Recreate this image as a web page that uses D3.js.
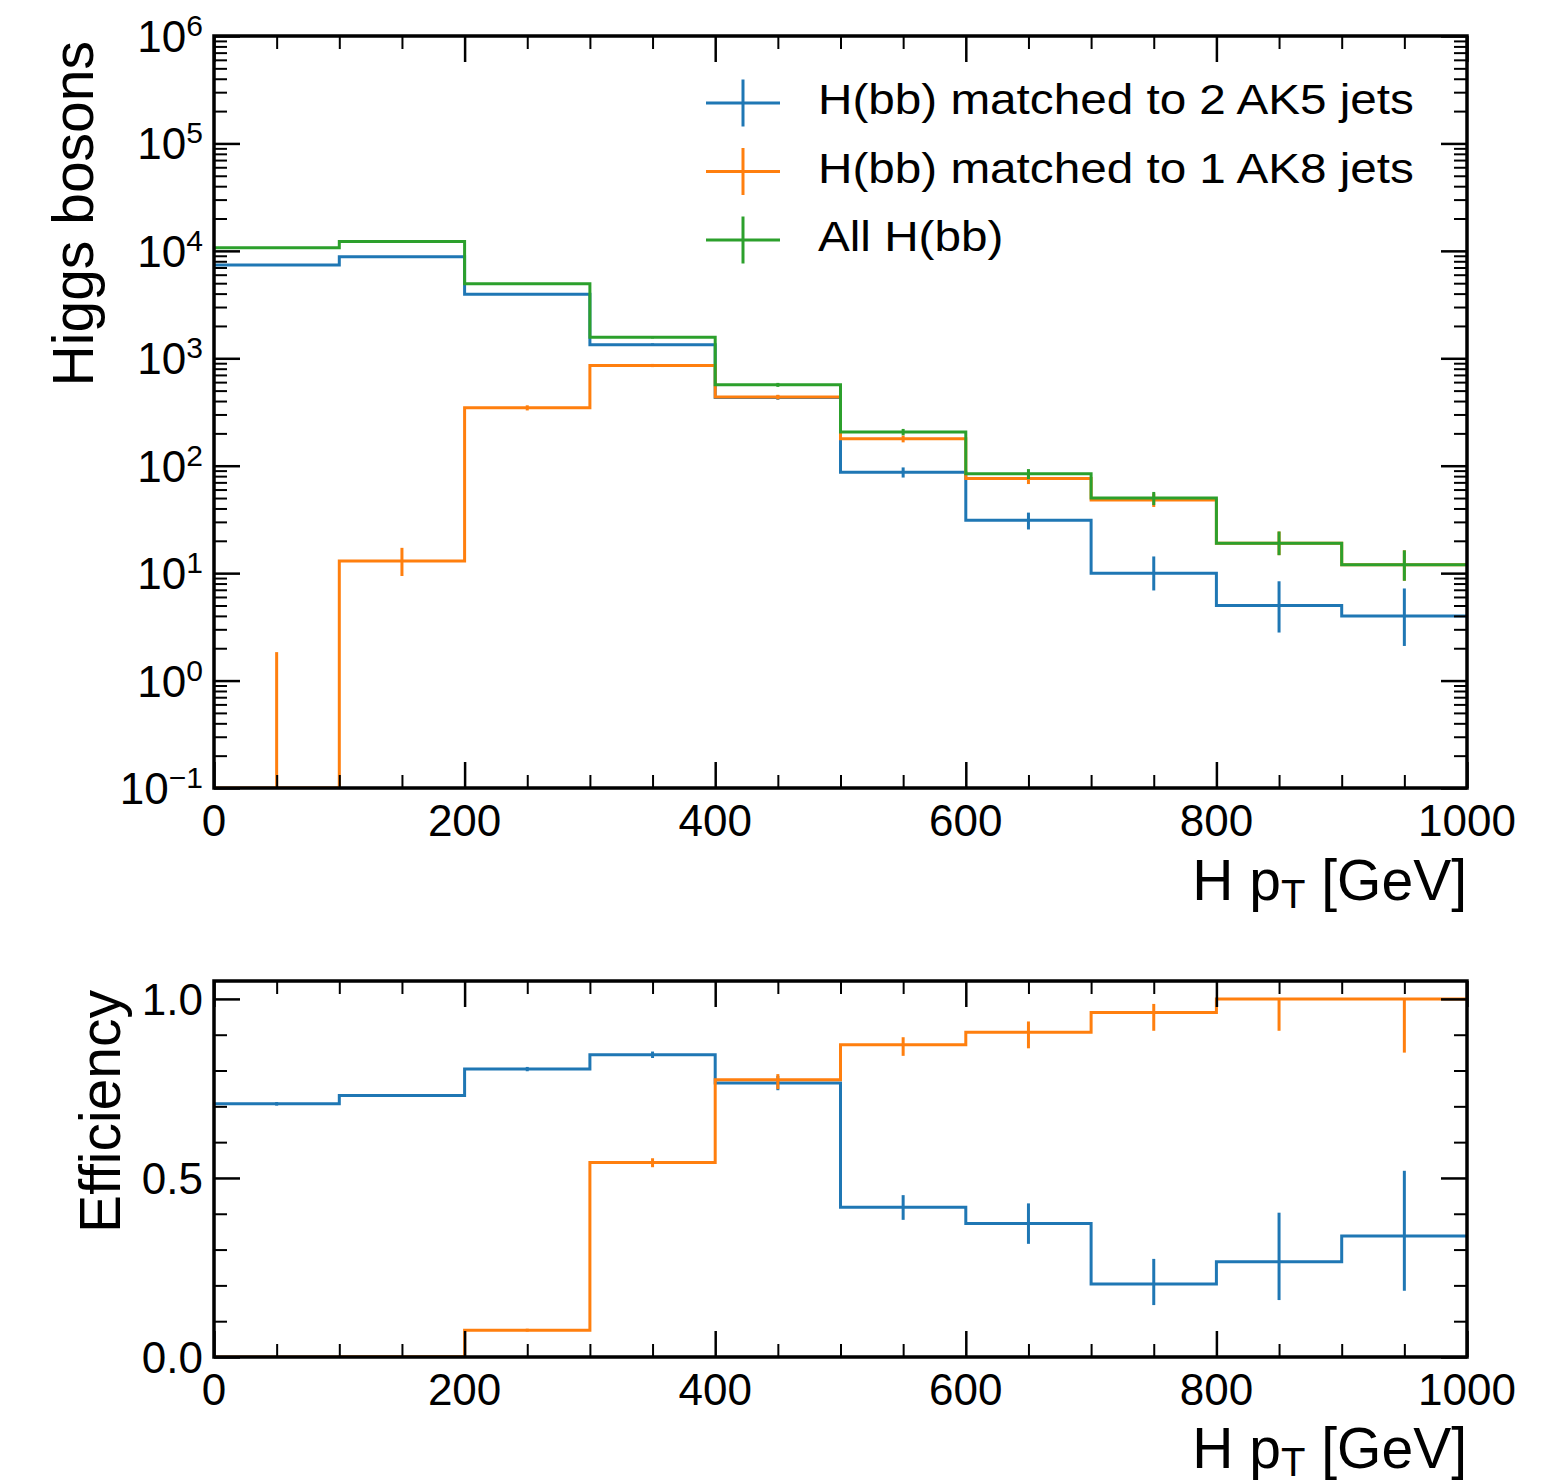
<!DOCTYPE html>
<html>
<head>
<meta charset="utf-8">
<script src="https://cdn.jsdelivr.net/npm/d3@7"></script>
<style>
  body { margin: 0; background: #fff; }
  svg { font-family: "Liberation Sans", Arial, Helvetica, sans-serif; }
  .tick line { stroke: #000; }
</style>
</head>
<body>
<svg id="chart" width="1553" height="1484"></svg>
<script>
// bin edges, H pT [GeV]
const edges = [0, 100, 200, 300, 400, 500, 600, 700, 800, 900, 1000];

// counts per bin (top panel)
const countAK5 = [7400, 8800, 3950, 1340, 432, 87, 31, 10, 5, 4];
const countAK8 = [0, 13, 346, 857, 436, 178, 76, 48, 19, 12];
const countAll = [10700, 12200, 4950, 1570, 566, 206, 84, 50, 19, 12];

// error bar bounds (top panel)
const loAK5 = [7314, 8706, 3887, 1303, 411, 77.6, 25.5, 6.9, 2.8, 2.1];
const hiAK5 = [7486, 8894, 4013, 1377, 453, 96.4, 36.6, 14.3, 8.4, 7.2];
const loAK8 = [0, 9.4, 327, 828, 415, 165, 67.5, 41.3, 14.7, 8.5];
const hiAK8 = [1.84, 17.2, 365, 886, 457, 191, 84.7, 55.1, 24.4, 16.3];
const loAll = [10600, 12090, 4880, 1530, 542, 192, 75, 43, 14.7, 8.5];
const hiAll = [10800, 12310, 5020, 1610, 590, 220, 93, 57, 24.4, 16.3];

// efficiencies (bottom panel)
const effAK5 = [0.707, 0.730, 0.804, 0.844, 0.765, 0.418, 0.373, 0.204, 0.266, 0.338];
const effAK8 = [0, 0.001, 0.075, 0.543, 0.774, 0.872, 0.907, 0.962, 1.0, 1.0];
const effLoAK5 = [0.702, 0.726, 0.798, 0.835, 0.745, 0.383, 0.316, 0.145, 0.159, 0.185];
const effHiAK5 = [0.712, 0.734, 0.810, 0.853, 0.785, 0.452, 0.429, 0.274, 0.403, 0.520];
const effLoAK8 = [0, 0.0007, 0.071, 0.530, 0.748, 0.841, 0.862, 0.911, 0.911, 0.85];
const effHiAK8 = [0.0003, 0.0013, 0.079, 0.555, 0.790, 0.893, 0.937, 0.986, 1.0, 1.0];

const legendLabels = ['H(bb) matched to 2 AK5 jets', 'H(bb) matched to 1 AK8 jets', 'All H(bb)'];
const colors = ['#1f77b4', '#ff7f0e', '#2ca02c'];

const xMajor = [0, 200, 400, 600, 800, 1000];
const xMinor = d3.range(0, 1001, 50).filter(v => v % 200 !== 0);

const svg = d3.select('#chart');

const X0 = 214, X1 = 1467;
const x = d3.scaleLinear().domain([0, 1000]).range([X0, X1]);

const pTop = { y0: 36, y1: 788 };
const pBot = { y0: 981, y1: 1357 };
const yLog = d3.scaleLog().domain([0.1, 1e6]).range([pTop.y1, pTop.y0]);
const yEff = d3.scaleLinear().domain([0, 1.05]).range([pBot.y1, pBot.y0]);

const centers = edges.slice(0, -1).map((e, i) => (e + edges[i + 1]) / 2);

function clipFor(id, p) {
  svg.append('clipPath').attr('id', id)
    .append('rect').attr('x', X0).attr('y', p.y0).attr('width', X1 - X0).attr('height', p.y1 - p.y0);
}
clipFor('clipTop', pTop);
clipFor('clipBot', pBot);

function drawHist(g, y, vals, lo, hi, color, ymin) {
  const clamp = v => Math.max(v, ymin);
  const pts = [];
  vals.forEach((v, i) => {
    pts.push([edges[i], clamp(v)]);
    pts.push([edges[i + 1], clamp(v)]);
  });
  const line = d3.line().x(d => x(d[0])).y(d => y(d[1]));
  g.append('path')
    .attr('d', line(pts))
    .attr('fill', 'none')
    .attr('stroke', color)
    .attr('stroke-width', 3);

  g.selectAll(null)
    .data(vals.map((v, i) => i))
    .enter()
    .append('line')
    .attr('x1', i => x(centers[i]))
    .attr('x2', i => x(centers[i]))
    .attr('y1', i => y(clamp(lo[i])))
    .attr('y2', i => y(clamp(hi[i])))
    .attr('stroke', color)
    .attr('stroke-width', 3);
}

// top panel
const gTop = svg.append('g').attr('clip-path', 'url(#clipTop)');
drawHist(gTop, yLog, countAK5, loAK5, hiAK5, colors[0], 0.1);
drawHist(gTop, yLog, countAK8, loAK8, hiAK8, colors[1], 0.1);
drawHist(gTop, yLog, countAll, loAll, hiAll, colors[2], 0.1);

// bottom panel
const gBot = svg.append('g').attr('clip-path', 'url(#clipBot)');
drawHist(gBot, yEff, effAK5, effLoAK5, effHiAK5, colors[0], 0);
drawHist(gBot, yEff, effAK8, effLoAK8, effHiAK8, colors[1], 0);

// ticks on all four sides, pointing inward
function ticks(p, y, yMajor, yMinor) {
  const g = svg.append('g');
  const put = (axis, tx, ty, size, w) => {
    const a = g.append('g').attr('transform', `translate(${tx},${ty})`)
      .call(axis.tickSize(-size).tickFormat(''));
    a.select('.domain').remove();
    a.selectAll('line').attr('stroke-width', w);
  };
  put(d3.axisBottom(x).tickValues(xMajor), 0, p.y1, 26, 2.5);
  put(d3.axisBottom(x).tickValues(xMinor), 0, p.y1, 13, 2);
  put(d3.axisTop(x).tickValues(xMajor), 0, p.y0, 26, 2.5);
  put(d3.axisTop(x).tickValues(xMinor), 0, p.y0, 13, 2);
  put(d3.axisLeft(y).tickValues(yMajor), X0, 0, 26, 2.5);
  put(d3.axisLeft(y).tickValues(yMinor), X0, 0, 13, 2);
  put(d3.axisRight(y).tickValues(yMajor), X1, 0, 26, 2.5);
  put(d3.axisRight(y).tickValues(yMinor), X1, 0, 13, 2);
}

const logMajor = d3.range(-1, 7).map(k => Math.pow(10, k));
const logMinor = [];
d3.range(-1, 6).forEach(k => d3.range(2, 10).forEach(m => logMinor.push(m * Math.pow(10, k))));
ticks(pTop, yLog, logMajor, logMinor);

const effMajor = [0, 0.5, 1.0];
const effMinor = [0.1, 0.2, 0.3, 0.4, 0.6, 0.7, 0.8, 0.9];
ticks(pBot, yEff, effMajor, effMinor);

// frames
[pTop, pBot].forEach(p => {
  svg.append('rect')
    .attr('x', X0).attr('y', p.y0)
    .attr('width', X1 - X0).attr('height', p.y1 - p.y0)
    .attr('fill', 'none').attr('stroke', '#000').attr('stroke-width', 3.5);
});

// x tick labels
[pTop, pBot].forEach(p => {
  svg.append('g').selectAll('text')
    .data(xMajor).enter().append('text')
    .attr('x', d => x(d))
    .attr('y', p.y1 + 48)
    .attr('text-anchor', 'middle')
    .attr('font-size', 44)
    .text(d => d);
});

// log y tick labels
const exps = d3.range(-1, 7);
const lt = svg.append('g').selectAll('text')
  .data(exps).enter().append('text')
  .attr('x', 203)
  .attr('y', k => yLog(Math.pow(10, k)) + 16)
  .attr('text-anchor', 'end')
  .attr('font-size', 44);
lt.append('tspan').text('10');
lt.append('tspan').attr('font-size', 30).attr('dy', -16)
  .text(k => k < 0 ? '\u2212' + (-k) : k);

// efficiency tick labels
svg.append('g').selectAll('text')
  .data(effMajor).enter().append('text')
  .attr('x', 203)
  .attr('y', d => yEff(d) + 16)
  .attr('text-anchor', 'end')
  .attr('font-size', 44)
  .text(d => d.toFixed(1));

// axis labels
function xLabel(yb) {
  const t = svg.append('text')
    .attr('x', X1).attr('y', yb)
    .attr('text-anchor', 'end')
    .attr('font-size', 57);
  t.append('tspan').text('H p');
  t.append('tspan').attr('font-size', 40).attr('dy', 8).text('T');
  t.append('tspan').attr('dy', -8).text(' [GeV]');
}
xLabel(900);
xLabel(1468);

svg.append('text')
  .attr('transform', `translate(93,${pTop.y0 + 5}) rotate(-90)`)
  .attr('text-anchor', 'end')
  .attr('font-size', 57)
  .text('Higgs bosons');

svg.append('text')
  .attr('transform', `translate(120,${pBot.y0 + 9}) rotate(-90)`)
  .attr('text-anchor', 'end')
  .attr('font-size', 57)
  .text('Efficiency');

// legend
const leg = svg.append('g').selectAll('g')
  .data(legendLabels).enter().append('g')
  .attr('transform', (d, i) => `translate(0,${103 + i * 68.5})`);
leg.append('line')
  .attr('x1', 706).attr('x2', 780).attr('y1', 0).attr('y2', 0)
  .attr('stroke', (d, i) => colors[i]).attr('stroke-width', 3);
leg.append('line')
  .attr('x1', 743).attr('x2', 743).attr('y1', -23.5).attr('y2', 23.5)
  .attr('stroke', (d, i) => colors[i]).attr('stroke-width', 3);
leg.append('text')
  .attr('transform', 'translate(818,11) scale(1.135,1)')
  .attr('font-size', 42)
  .text(d => d);
</script>
</body>
</html>
